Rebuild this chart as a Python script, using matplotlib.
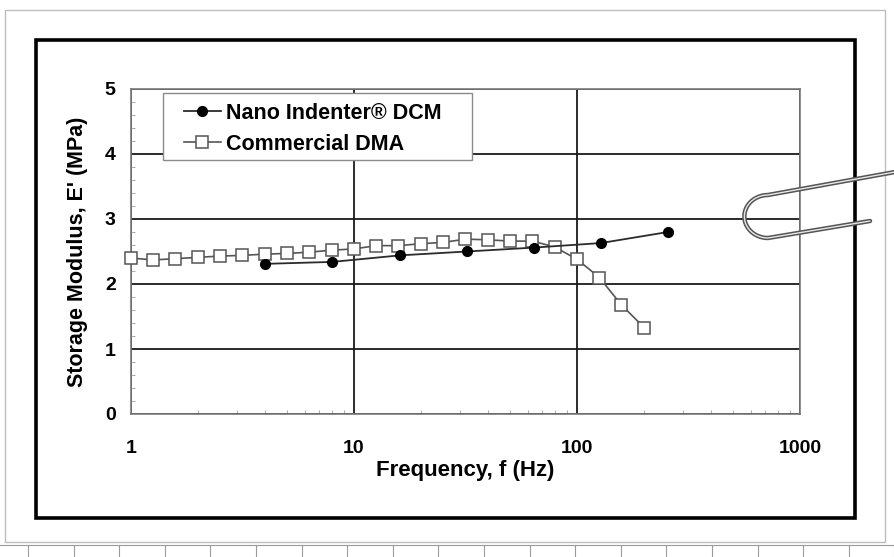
import numpy as np
import matplotlib.pyplot as plt
from matplotlib.patches import Rectangle
from matplotlib.lines import Line2D
from matplotlib.ticker import LogLocator, MultipleLocator, FixedLocator, NullFormatter

plt.rcParams['font.family'] = ['Liberation Sans', 'DejaVu Sans']
plt.rcParams['font.weight'] = 'bold'

# Nano Indenter DCM (filled circles)
f_dcm = [4, 8, 16, 32, 64, 128, 256]
e_dcm = [2.31, 2.34, 2.44, 2.50, 2.56, 2.63, 2.80]

# Commercial DMA (open squares)
f_dma = [1.0, 1.26, 1.58, 2.0, 2.51, 3.16, 3.98, 5.01, 6.31, 7.94,
         10.0, 12.6, 15.8, 20.0, 25.1, 31.6, 39.8, 50.1, 63.1, 79.4,
         100, 126, 158, 200]
e_dma = [2.40, 2.37, 2.39, 2.41, 2.43, 2.44, 2.46, 2.47, 2.49, 2.52,
         2.54, 2.59, 2.59, 2.62, 2.64, 2.69, 2.68, 2.66, 2.66, 2.57,
         2.38, 2.10, 1.68, 1.33]

x_ticks = [1, 10, 100, 1000]
x_labels = ['1', '10', '100', '1000']
y_ticks = [0, 1, 2, 3, 4, 5]

W, H = 895, 557
fig = plt.figure(figsize=(W / 100, H / 100), dpi=100)
fig.patch.set_facecolor('white')


def px(x, y):
    return x / W, 1 - y / H


# page edge and heavy outer frame
fig.add_artist(Rectangle(px(5, 542), 880 / W, 532 / H, transform=fig.transFigure,
                         fill=False, ec='#bdbdbd', lw=1.0))
fig.add_artist(Rectangle(px(36, 518), 819 / W, 478 / H, transform=fig.transFigure,
                         fill=False, ec='black', lw=2.6))

# graph paper showing underneath at the bottom
for xg in np.arange(28, W, 45.6):
    fig.add_artist(Line2D([xg / W, xg / W], [0, 1 - 545 / H], transform=fig.transFigure,
                          color='#9a9a9a', lw=0.8))
fig.add_artist(Line2D([0, 1], [1 - 545 / H] * 2, transform=fig.transFigure,
                      color='#9a9a9a', lw=0.8))

ax = fig.add_axes([131 / W, 1 - 414 / H, 669 / W, 325 / H])
ax.set_facecolor('white')

ax.plot(f_dcm, e_dcm, '-o', color='#2b2b2b', lw=1.3, ms=7, mfc='black', mec='black',
        label='Nano Indenter® DCM', zorder=4)
ax.plot(f_dma, e_dma, '-s', color='#555555', lw=1.2, ms=8, mfc='white', mec='#555555',
        mew=1.1, label='Commercial DMA', zorder=3, clip_on=False)

ax.set_xscale('log')
ax.set_xlim(1, 1000)
ax.set_ylim(0, 5)
ax.xaxis.set_major_locator(FixedLocator(x_ticks))
ax.set_xticklabels(x_labels)
ax.xaxis.set_minor_locator(LogLocator(base=10, subs=np.arange(2, 10)))
ax.xaxis.set_minor_formatter(NullFormatter())
ax.set_yticks(y_ticks)
ax.yaxis.set_minor_locator(MultipleLocator(0.2))

ax.grid(True, which='major', color='#1a1a1a', lw=1.3)
ax.tick_params(which='major', length=0, labelsize=14, colors='black')
ax.tick_params(axis='x', which='major', pad=19)
ax.tick_params(axis='y', which='major', pad=11)
ax.tick_params(which='minor', direction='in', length=3, color='#aaaaaa', width=0.7)
for s in ax.spines.values():
    s.set_color('#7a7a7a')
    s.set_linewidth(1.2)

ax.set_xlabel('Frequency, f (Hz)', fontsize=16, fontweight='bold', labelpad=2)
ax.set_ylabel("Storage Modulus, E' (MPa)", fontsize=15.5, fontweight='bold', labelpad=12)

# legend box drawn separately so it can be wider than its entries
ax.add_patch(Rectangle(px(163, 160), 309 / W, 67 / H, transform=fig.transFigure,
                       fc='white', ec='#8a8a8a', lw=1.0, zorder=5, clip_on=False))
leg = ax.legend(loc='upper left', bbox_to_anchor=px(184, 103), bbox_transform=fig.transFigure,
                frameon=False, fontsize=15.5, handlelength=1.7, handletextpad=0.25,
                borderpad=0.0, labelspacing=0.45, borderaxespad=0)
leg.set_zorder(6)
for t in leg.get_texts():
    t.set_fontweight('bold')

# paper clip over the right edge
t = np.linspace(np.pi / 2, 3 * np.pi / 2, 40)
cx, cy, r = 768, 216.5, 21.5
clip_x = np.concatenate([[895], cx + 1.1 * r * np.cos(t), [870]])
clip_y = np.concatenate([[172], cy - r * np.sin(t), [221]])
fx = clip_x / W
fy = 1 - clip_y / H
fig.add_artist(Line2D(fx, fy, transform=fig.transFigure, color='#555555', lw=3.2,
                      solid_capstyle='round', zorder=10))
fig.add_artist(Line2D(fx, fy, transform=fig.transFigure, color='#e6e6e6', lw=1.0,
                      solid_capstyle='round', zorder=11))

fig.savefig('out.png', dpi=100)
